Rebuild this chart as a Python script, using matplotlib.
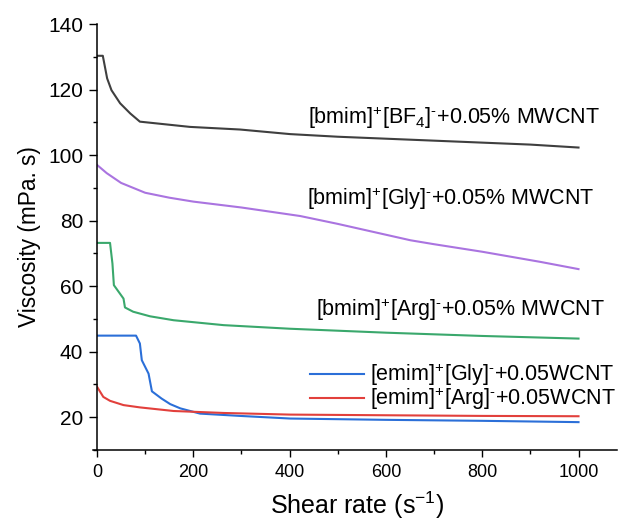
import matplotlib
matplotlib.use("Agg")
import matplotlib.pyplot as plt

plt.rcParams["font.family"] = ["Liberation Sans", "DejaVu Sans"]
plt.rcParams["mathtext.fontset"] = "custom"
plt.rcParams["mathtext.rm"] = "Liberation Sans"
plt.rcParams["mathtext.default"] = "regular"

# valores (taxa de cisalhamento, viscosidade)
bf4_x = [0, 12, 21, 30, 48, 69, 89, 193, 297, 401, 500, 600, 700, 800, 900, 1000]
bf4_y = [130.3, 130.3, 123.4, 119.8, 115.8, 112.7, 110.2, 108.6, 107.8, 106.4, 105.6, 105.0, 104.4, 103.8, 103.2, 102.3]

bgly_x = [0, 20, 50, 100, 150, 200, 300, 422, 500, 651, 700, 800, 921, 1000]
bgly_y = [97.0, 94.5, 91.5, 88.5, 87.0, 85.8, 84.0, 81.4, 79.0, 74.0, 72.8, 70.5, 67.4, 65.2]

barg_x = [0, 27, 32, 35, 55, 58, 75, 110, 159, 263, 401, 600, 800, 1000]
barg_y = [73.2, 73.2, 66.9, 60.3, 56.2, 53.5, 52.2, 50.8, 49.6, 48.1, 47.0, 45.8, 44.8, 44.0]

egly_x = [0, 81, 89, 93, 107, 114, 134, 152, 173, 214, 297, 401, 600, 800, 1000]
egly_y = [44.9, 44.9, 42.5, 37.4, 33.3, 27.9, 25.7, 24.0, 22.7, 21.1, 20.4, 19.6, 19.2, 18.9, 18.5]

earg_x = [0, 13, 27, 55, 89, 159, 263, 401, 600, 800, 1000]
earg_y = [29.3, 26.2, 25.0, 23.7, 23.0, 21.9, 21.3, 20.8, 20.6, 20.4, 20.3]

fig = plt.figure(figsize=(6.22, 5.23), dpi=100)
ax = fig.add_axes([0.156, 0.1396, 0.836, 0.8145])

lw = 1.5
ax.plot(bf4_x, bf4_y, color="#3f3f3f", lw=lw)
ax.plot(bgly_x, bgly_y, color="#aa74e0", lw=lw)
ax.plot(barg_x, barg_y, color="#3aa86c", lw=lw)
l1, = ax.plot(egly_x, egly_y, color="#2b6fd8", lw=lw,
              label=r"[emim]$^{+}$[Gly]$^{\text{-}}$+0.05WCNT")
l2, = ax.plot(earg_x, earg_y, color="#e2403c", lw=lw,
              label=r"[emim]$^{+}$[Arg]$^{\text{-}}$+0.05WCNT")

fs = 15.5
ax.text(439, 111.3, r"[bmim]$^{+}$[BF$_{4}$]$^{\text{-}}$+0.05% MWCNT", fontsize=fs, va="center", ha="left")
ax.text(437, 86.6, r"[bmim]$^{+}$[Gly]$^{\text{-}}$+0.05% MWCNT", fontsize=fs, va="center", ha="left")
ax.text(455, 52.7, r"[bmim]$^{+}$[Arg]$^{\text{-}}$+0.05% MWCNT", fontsize=fs, va="center", ha="left")

fig.legend(handles=[l1, l2], loc="center left", bbox_to_anchor=(0.498, 0.2600),
           bbox_transform=fig.transFigure, frameon=False, fontsize=fs,
           handlelength=2.5, handletextpad=0.3, labelspacing=-0.1,
           borderpad=0, borderaxespad=0)

ax.set_xlim(0, 1080)
ax.set_ylim(10, 140)
ax.set_xticks([0, 200, 400, 600, 800, 1000])
ax.set_xticks([100, 300, 500, 700, 900], minor=True)
ax.set_yticks([20, 40, 60, 80, 100, 120, 140])
ax.set_yticks([10, 30, 50, 70, 90, 110, 130], minor=True)
ax.tick_params(which="major", direction="out", width=1)
ax.tick_params(which="minor", direction="out", length=3, width=1)
ax.tick_params(axis="x", which="major", length=5, pad=5, labelsize=13)
ax.tick_params(axis="y", which="major", length=6, pad=4, labelsize=15)

for s in ["top", "right"]:
    ax.spines[s].set_visible(False)
for s in ["left", "bottom"]:
    ax.spines[s].set_linewidth(1.1)
ax.spines["bottom"].set_bounds(-8, 1080)

ax.set_xlabel("Shear rate (s$^{-1}$)", fontsize=18, labelpad=6)
ax.set_ylabel("Viscosity (mPa. s)", fontsize=16.3, labelpad=5)

fig.savefig("out.png", dpi=100)
